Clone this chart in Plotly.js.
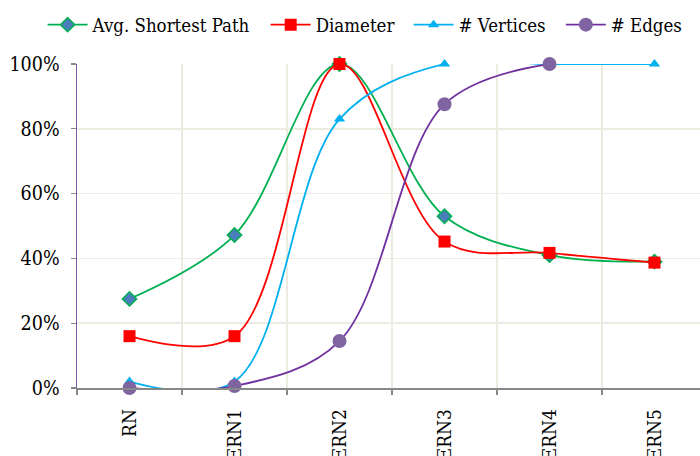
<!DOCTYPE html>
<html>
<head>
<meta charset="utf-8">
<script src="https://cdn.plot.ly/plotly-3.0.1.min.js"></script>
<style>
html,body{margin:0;padding:0;overflow:hidden;background:#fff;}
#chart{width:710px;height:456px;}
#chart svg text{font-stretch:condensed;}
</style>
</head>
<body>
<div id="chart"></div>
<script>
const categories = ["RN", "ERN1", "ERN2", "ERN3", "ERN4", "ERN5"];
const avgShortestPath = [0.275, 0.472, 1.0, 0.53, 0.41, 0.39];
const diameter = [0.16, 0.16, 1.0, 0.452, 0.417, 0.387];
const vertices = [0.02, 0.02, 0.83, 1.0, 1.0, 1.0];
const edges = [0.0, 0.006, 0.145, 0.876, 1.0, null];
const seriesNames = ["Avg. Shortest Path", "Diameter", "# Vertices", "# Edges"];
const yTickVals = [0, 0.2, 0.4, 0.6, 0.8, 1.0];
const yTickText = ["0%", "20%", "40%", "60%", "80%", "100%"];

const FONT = "DejaVu Serif";

const traces = [
  {x: categories, y: avgShortestPath, name: seriesNames[0], legend: "legend",
   mode: "lines+markers", line: {color: "#00B050", width: 1.8, shape: "spline", smoothing: 1},
   marker: {symbol: "diamond", size: 11, color: "#4A7EBB", line: {color: "#00B050", width: 1.5}}},
  {x: categories, y: diameter, name: seriesNames[1], legend: "legend2",
   mode: "lines+markers", line: {color: "#FF0000", width: 1.8, shape: "spline", smoothing: 1},
   marker: {symbol: "square", size: 12, color: "#FF0000"}},
  {x: categories, y: vertices, name: seriesNames[2], legend: "legend3",
   mode: "lines+markers", line: {color: "#00B0F0", width: 1.8, shape: "spline", smoothing: 1},
   marker: {symbol: "triangle-up", size: 10, color: "#00B0F0"}},
  {x: categories, y: edges, name: seriesNames[3], legend: "legend4",
   mode: "lines+markers", line: {color: "#7030A0", width: 1.8, shape: "spline", smoothing: 1},
   marker: {symbol: "circle", size: 14, color: "#8064A2"}}
];
traces.forEach(t => { t.cliponaxis = false; t.connectgaps = false; });

function leg(x) {
  return {x: x, xanchor: "left", y: 1.12, yanchor: "middle", orientation: "h",
          font: {family: FONT, size: 18.5, color: "#000"}, bgcolor: "rgba(0,0,0,0)",
          borderwidth: 0, itemwidth: 40};
}

const layout = {
  width: 710, height: 456,
  margin: {l: 77, r: 3, t: 64, b: 68},
  paper_bgcolor: "#fff", plot_bgcolor: "#fff",
  font: {family: FONT, size: 18, color: "#000"},
  showlegend: true,
  legend: leg(-0.0546),
  legend2: leg(0.2995),
  legend3: leg(0.5263),
  legend4: leg(0.768),
  xaxis: {
    type: "category", range: [-0.5, 5.5], tickson: "boundaries",
    tickangle: -90, ticks: "outside", ticklen: 5, tickcolor: "#888", tickwidth: 1.2,
    ticklabelstandoff: 12,
    showgrid: true, gridcolor: "#EDEAE0", gridwidth: 1.5,
    showline: true, linecolor: "#888", linewidth: 1.5,
    tickfont: {family: FONT, size: 19, color: "#000"}, fixedrange: true
  },
  yaxis: {
    range: [0, 1], tickvals: yTickVals, ticktext: yTickText,
    ticks: "outside", ticklen: 5, tickcolor: "#888", tickwidth: 1.2,
    ticklabelstandoff: 7,
    showgrid: true, gridcolor: "#EDEAE0", gridwidth: 1.5, zeroline: false,
    showline: true, linecolor: "#7B5EA7", linewidth: 1.5,
    tickfont: {family: FONT, size: 19.5, color: "#000"}, fixedrange: true
  }
};

Plotly.newPlot("chart", traces, layout, {displayModeBar: false, staticPlot: true});
</script>
</body>
</html>
